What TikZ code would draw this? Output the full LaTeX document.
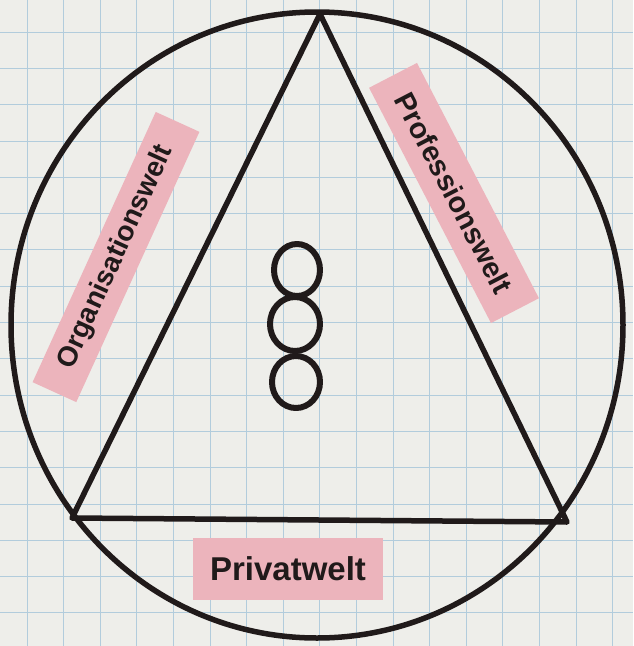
\documentclass[tikz,border=0pt]{standalone}
\usepackage{fontspec}
\setmainfont{Liberation Sans}
\definecolor{paper}{RGB}{238,238,234}
\definecolor{gridblue}{RGB}{178,204,220}
\definecolor{marker}{RGB}{236,180,188}
\definecolor{ink}{RGB}{32,26,26}
\tikzset{
    pen/.style={ink, line width=5.5pt, line join=round, line cap=round},
    tag/.style={fill=marker, text=ink, inner sep=0pt, font=\fontsize{#1}{#1}\selectfont\bfseries},
}

\begin{document}
\begin{tikzpicture}[x=1pt, y=-1pt]
    \useasboundingbox (0,0) rectangle (633,646);
    % paper with the grid
        \fill[paper] (0,0) rectangle (633,646);
        \foreach \gx in {0,...,17} \draw[gridblue, line width=0.8pt] (27+36.6*\gx,0) -- (27+36.6*\gx,646);
        \foreach \gy in {0,...,17} \draw[gridblue, line width=0.8pt] (0,32+36.3*\gy) -- (633,32+36.3*\gy);
    % corners of the triangle
        \coordinate (top) at (320,14);
        \coordinate (left) at (72,518);
        \coordinate (right) at (567,522);
    % the outer circle and the triangle
        \draw[pen] (317,325) ellipse [x radius=306, y radius=313];
        \draw[pen] (top) -- (left) -- (right) -- cycle;
    % the three rings in the middle
        \draw[pen, line width=6pt] (297,270) ellipse [x radius=23, y radius=26];
        \draw[pen, line width=6pt] (295,324) ellipse [x radius=25, y radius=27];
        \draw[pen, line width=6pt] (296,382) ellipse [x radius=24, y radius=26];
    % Below nodes are the labels.
        \node[tag=33, minimum width=190, minimum height=62] (privat) at (288,569) {Privatwelt};
        \node[tag=29, minimum width=265, minimum height=54, rotate=-62.6] (profession) at (454,193) {Professionswelt};
        \node[tag=28, minimum width=297, minimum height=48, rotate=65.5] (organisation) at (116,257) {Organisationswelt};
\end{tikzpicture}
\end{document}
